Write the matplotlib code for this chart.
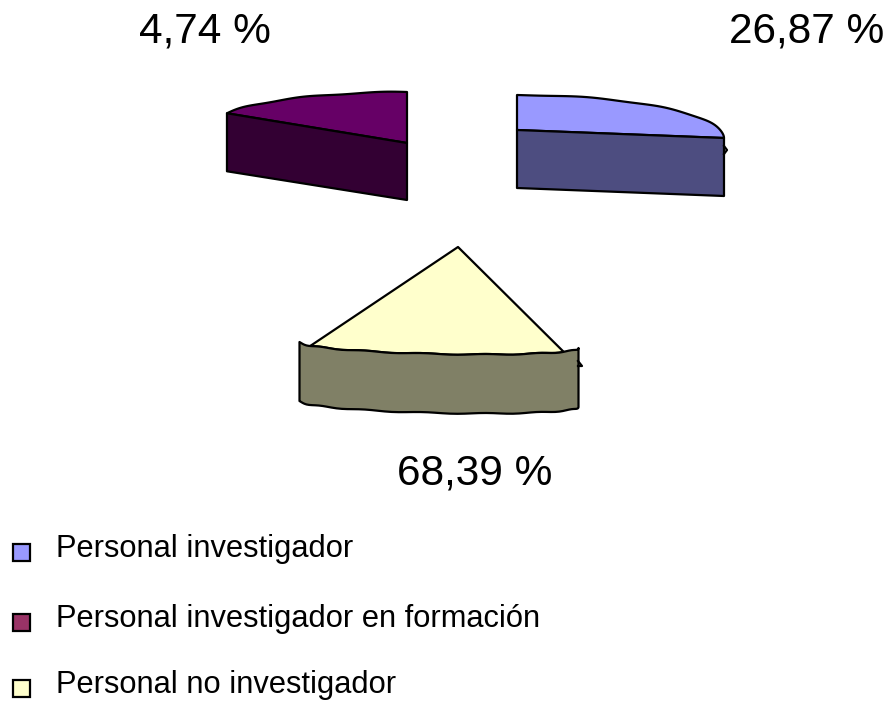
import numpy as np
import matplotlib.pyplot as plt
from matplotlib.patches import Polygon, Rectangle

plt.rcParams['font.family'] = ['Liberation Sans', 'DejaVu Sans']

categories = ['Personal investigador', 'Personal investigador en formación', 'Personal no investigador']
shares = [26.87, 4.74, 68.39]

top_colors = ['#9999FF', '#660066', '#FFFFCC']
wall_colors = ['#4D4D80', '#330033', '#808066']
legend_colors = ['#9999FF', '#993366', '#FFFFCC']

depth = 58
label_pos = [(807, 32), (205, 32), (475, 474)]
legend_y = [552, 622, 688]
legend_text_y = [549, 619, 685]


def rim(cx, cy, rx, ry, tilt, start, stop, wobble=0.0):
    # flattened pie rim, angle in degrees from straight up
    t = np.radians(np.linspace(start, stop, 60))
    x = cx + rx * np.sin(t)
    y = cy - ry * np.cos(t) + tilt * np.sin(t) + wobble * np.sin(t * 14)
    return np.column_stack([x, y])


def add_poly(ax, pts, color):
    ax.add_patch(Polygon(pts, closed=True, facecolor=color, edgecolor='black', linewidth=1.6, joinstyle='round'))


fig = plt.figure(figsize=(8.89, 7.01), dpi=100)
ax = fig.add_axes([0, 0, 1, 1])
ax.set_xlim(0, 889)
ax.set_ylim(701, 0)
ax.axis('off')

# blue slice
blue_apex = np.array([[517, 130]])
blue_rim = rim(517, 138, 207, 43, 0, 0, 90, wobble=0.4)
add_poly(ax, np.vstack([blue_apex, blue_rim]), top_colors[0])
blue_wall = np.vstack([blue_apex, blue_rim[-1:], blue_rim[-1:] + [0, depth], blue_apex + [0, depth]])
add_poly(ax, blue_wall, wall_colors[0])
ax.plot([724, 727, 724], [146, 150, 154], color='black', lw=1.6)

# purple slice
purple_apex = np.array([[407, 143]])
purple_rim = rim(407, 126, 195, 34, 0, 0, -67.4, wobble=0.5)
add_poly(ax, np.vstack([purple_apex, purple_rim]), top_colors[1])
purple_wall = np.vstack([purple_apex, purple_rim[-1:], purple_rim[-1:] + [0, depth], purple_apex + [0, depth - 1]])
add_poly(ax, purple_wall, wall_colors[1])

# yellow slice, rim bulges towards the viewer
yellow_apex = np.array([[458, 247]])
yellow_top = rim(439, 345, 140, -9, 3, -67, 63, wobble=0.5)
add_poly(ax, np.vstack([yellow_apex, yellow_top]), top_colors[2])
yellow_rim = rim(439, 345, 139.5, -9, 3, -90, 90, wobble=0.5)
yellow_wall = np.vstack([yellow_rim, yellow_rim[::-1] + [0, depth + 1]])
add_poly(ax, yellow_wall, wall_colors[2])
ax.plot([578, 582, 578], [361, 366, 366], color='black', lw=1.6)

for share, (x, y) in zip(shares, label_pos):
    label = f'{share:.2f} %'.replace('.', ',')
    ax.text(x, y, label, fontsize=30.5, ha='center', va='center', color='black')

for name, color, y, ty in zip(categories, legend_colors, legend_y, legend_text_y):
    ax.add_patch(Rectangle((13, y - 8), 17, 17, facecolor=color, edgecolor='black', linewidth=1.6))
    ax.text(56, ty, name, fontsize=22.2, ha='left', va='center', color='black')

fig.savefig('out.png', dpi=100)
